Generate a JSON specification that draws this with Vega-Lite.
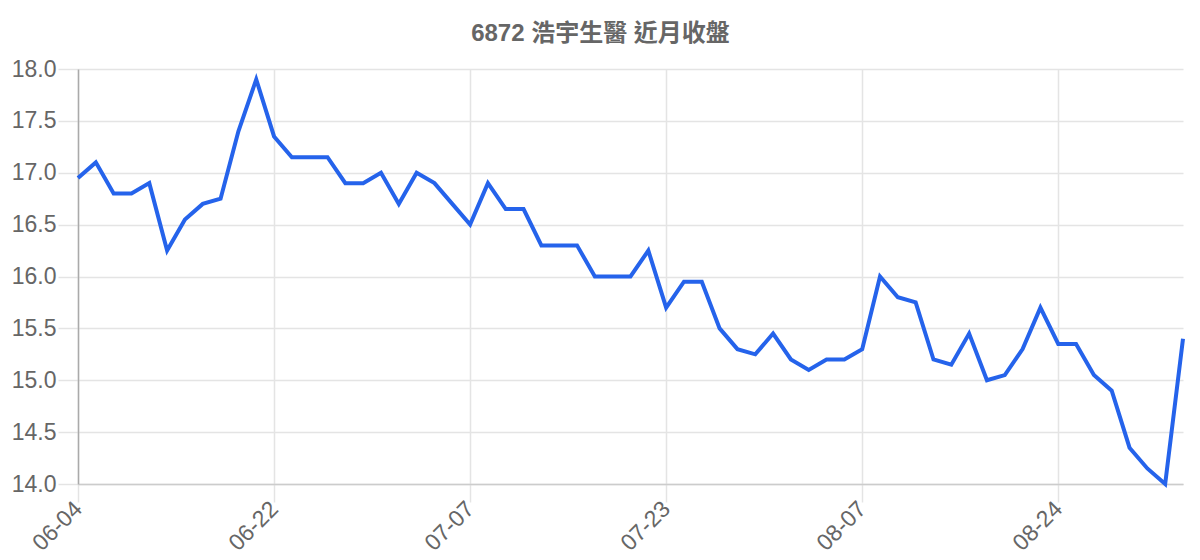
{
  "$schema": "https://vega.github.io/schema/vega-lite/v6.json",
  "width": 1105,
  "height": 415,
  "autosize": {"type": "none"},
  "padding": {"left": 78, "top": 69, "right": 17, "bottom": 76},
  "background": "#ffffff",
  "title": {
    "text": "6872 浩宇生醫 近月收盤",
    "font": "Liberation Sans, Noto Sans CJK TC",
    "fontSize": 24,
    "fontWeight": "bold",
    "color": "#666666",
    "anchor": "middle",
    "dx": -30,
    "offset": 12
  },
  "config": {
    "view": {"stroke": null},
    "axis": {
      "labelFont": "Liberation Sans",
      "labelFontSize": 23,
      "labelColor": "#666666",
      "gridColor": "#e4e4e4",
      "tickColor": "#e4e4e4",
      "gridWidth": 1.5,
      "tickWidth": 1.5,
      "domainWidth": 1.5
    }
  },
  "data": {
    "values": [
      {"date": "06-04", "close": 16.95},
      {"date": "06-05", "close": 17.1},
      {"date": "06-06", "close": 16.8},
      {"date": "06-07", "close": 16.8},
      {"date": "06-11", "close": 16.9},
      {"date": "06-12", "close": 16.25},
      {"date": "06-13", "close": 16.55},
      {"date": "06-14", "close": 16.7},
      {"date": "06-17", "close": 16.75},
      {"date": "06-18", "close": 17.4},
      {"date": "06-19", "close": 17.9},
      {"date": "06-22", "close": 17.35},
      {"date": "06-24", "close": 17.15},
      {"date": "06-25", "close": 17.15},
      {"date": "06-26", "close": 17.15},
      {"date": "06-27", "close": 16.9},
      {"date": "06-28", "close": 16.9},
      {"date": "07-01", "close": 17.0},
      {"date": "07-02", "close": 16.7},
      {"date": "07-03", "close": 17.0},
      {"date": "07-04", "close": 16.9},
      {"date": "07-05", "close": 16.7},
      {"date": "07-07", "close": 16.5},
      {"date": "07-08", "close": 16.9},
      {"date": "07-09", "close": 16.65},
      {"date": "07-10", "close": 16.65},
      {"date": "07-11", "close": 16.3},
      {"date": "07-12", "close": 16.3},
      {"date": "07-15", "close": 16.3},
      {"date": "07-16", "close": 16.0},
      {"date": "07-17", "close": 16.0},
      {"date": "07-18", "close": 16.0},
      {"date": "07-19", "close": 16.25},
      {"date": "07-23", "close": 15.7},
      {"date": "07-24", "close": 15.95},
      {"date": "07-25", "close": 15.95},
      {"date": "07-26", "close": 15.5},
      {"date": "07-29", "close": 15.3},
      {"date": "07-30", "close": 15.25},
      {"date": "07-31", "close": 15.45},
      {"date": "08-01", "close": 15.2},
      {"date": "08-02", "close": 15.1},
      {"date": "08-05", "close": 15.2},
      {"date": "08-06", "close": 15.2},
      {"date": "08-07", "close": 15.3},
      {"date": "08-08", "close": 16.0},
      {"date": "08-09", "close": 15.8},
      {"date": "08-12", "close": 15.75},
      {"date": "08-13", "close": 15.2},
      {"date": "08-14", "close": 15.15},
      {"date": "08-15", "close": 15.45},
      {"date": "08-16", "close": 15.0},
      {"date": "08-19", "close": 15.05},
      {"date": "08-20", "close": 15.3},
      {"date": "08-21", "close": 15.7},
      {"date": "08-24", "close": 15.35},
      {"date": "08-26", "close": 15.35},
      {"date": "08-27", "close": 15.05},
      {"date": "08-28", "close": 14.9},
      {"date": "08-29", "close": 14.35},
      {"date": "08-30", "close": 14.15},
      {"date": "09-02", "close": 14.0},
      {"date": "09-03", "close": 15.4}
    ]
  },
  "mark": {"type": "line", "color": "#2563eb", "strokeWidth": 4, "strokeJoin": "miter"},
  "encoding": {
    "x": {
      "field": "date",
      "type": "ordinal",
      "sort": null,
      "scale": {"type": "point", "padding": 0},
      "axis": {
        "title": null,
        "values": ["06-04", "06-22", "07-07", "07-23", "08-07", "08-24"],
        "labelAngle": -45,
        "labelAlign": "right",
        "labelBaseline": "middle",
        "tickSize": 18,
        "labelPadding": 3,
        "grid": true,
        "domainColor": "#cccccc"
      }
    },
    "y": {
      "field": "close",
      "type": "quantitative",
      "scale": {"domain": [14, 18], "nice": false, "zero": false},
      "axis": {
        "title": null,
        "values": [14, 14.5, 15, 15.5, 16, 16.5, 17, 17.5, 18],
        "format": ".1f",
        "tickSize": 20,
        "labelPadding": 2,
        "grid": true,
        "domainColor": "#aaaaaa"
      }
    }
  }
}
